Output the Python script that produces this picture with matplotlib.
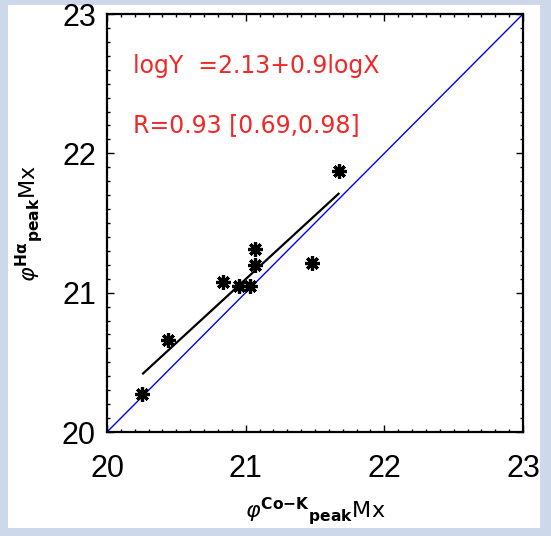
import matplotlib
matplotlib.use('Agg')
from matplotlib import pyplot as plt
from matplotlib.patches import Rectangle

# data
x_pts = [20.25, 20.44, 20.84, 20.95, 21.03, 21.07, 21.07, 21.48, 21.67]
y_pts = [20.27, 20.66, 21.08, 21.05, 21.05, 21.20, 21.31, 21.21, 21.87]
fit_x = [20.26, 21.67]
fit_y = [20.42, 21.71]
diag = [20, 23]
ticks = [20, 21, 22, 23]
fit_text = 'logY  =2.13+0.9logX'
r_text = 'R=0.93 [0.69,0.98]'

plt.rcParams['font.family'] = ['Liberation Sans', 'DejaVu Sans']
plt.rcParams['mathtext.fontset'] = 'dejavusans'

fig = plt.figure(figsize=(5.51, 5.36), dpi=100, facecolor='#cdd9ea')
fig.patches.append(Rectangle((8/551, 8/536), 532/551, 523/536, transform=fig.transFigure,
                             facecolor='white', edgecolor='none', zorder=-5))
ax = fig.add_axes([107/551, 104/536, 416/551, 418/536])
ax.set_zorder(2)

ax.plot(diag, diag, c='blue', lw=1)
ax.plot(fit_x, fit_y, c='black', lw=1.6)
ax.plot(x_pts, y_pts, ls='none', marker=(8, 2, 0), ms=10.5, mew=2.3, c='black')

ax.set_xlim(20, 23)
ax.set_ylim(20, 23)
ax.set_xticks(ticks)
ax.set_yticks(ticks)
ax.minorticks_on()
ax.xaxis.set_minor_locator(matplotlib.ticker.MultipleLocator(0.1))
ax.yaxis.set_minor_locator(matplotlib.ticker.MultipleLocator(0.1))
ax.tick_params(which='both', direction='in', top=True, right=True, width=1)
ax.tick_params(which='major', length=5, labelsize=22)
ax.tick_params(axis='x', which='major', pad=16)
ax.tick_params(axis='y', which='major', pad=8)
ax.tick_params(which='minor', length=2.5)
for s in ax.spines.values():
    s.set_linewidth(1.6)

ax.text(20.187, 22.58, fit_text, color='#f02828', fontsize=17, family='DejaVu Sans')
ax.text(20.187, 22.15, r_text, color='#f02828', fontsize=17, family='DejaVu Sans')

ax.set_xlabel(r'$\varphi^{\mathbf{Co{-}K}}{}_{\mathbf{peak}}\mathrm{Mx}$', fontsize=16, labelpad=8)
ax.set_ylabel(r'$\varphi^{\mathbf{H\alpha}}{}_{\mathbf{peak}}\mathrm{Mx}$', fontsize=16, labelpad=12)

fig.savefig('out.png', dpi=100, facecolor=fig.get_facecolor())
